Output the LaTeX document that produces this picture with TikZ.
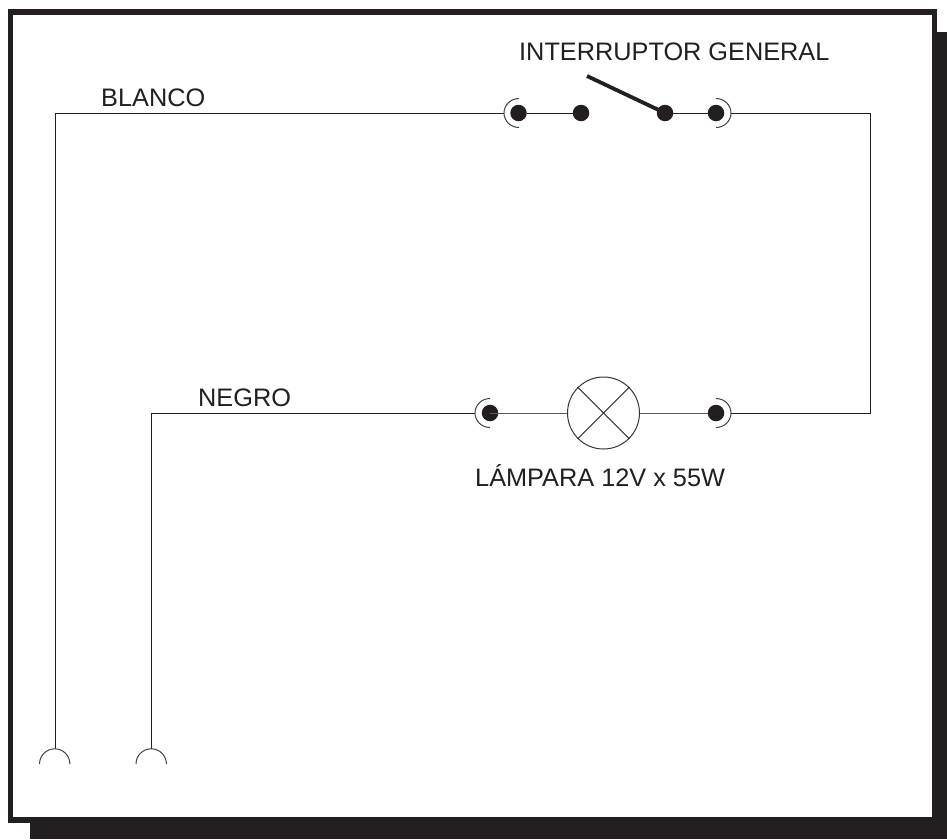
\documentclass[tikz,border=0pt]{standalone}
\usepackage{fontspec}
\setmainfont{Liberation Sans}
\definecolor{frameblack}{HTML}{231F20}
\definecolor{wiremag}{HTML}{A0307F}
\tikzset{
  x=1pt,y=-1pt,
  terminal/.style={circle,fill=frameblack,draw=none,inner sep=0pt,minimum size=16.5pt},
  wire/.style={draw=frameblack,line width=0.9pt},
  magwire/.style={draw=wiremag,line width=1pt},
  cup/.style={draw=frameblack!85,line width=1pt},
  lamp/.style={circle,draw=frameblack!90,line width=1pt,inner sep=0pt,minimum size=72pt},
  lever/.style={draw=frameblack,line width=3.8pt},
  label/.style={anchor=base west,inner sep=0pt,font=\fontsize{25.3}{30}\selectfont,text=frameblack}
}
\begin{document}
\begin{tikzpicture}
\useasboundingbox (0,0) rectangle (947,839);
% shadow and frame
\fill[frameblack] (30,32) rectangle (947,839);
\fill[frameblack] (7.5,9) rectangle (937,822.5);
\fill[white] (13,14.5) rectangle (932,816.5);
% nodes
\node[terminal] (t1) at (518.5,113) {};
\node[terminal] (t2) at (581,113) {};
\node[terminal] (t3) at (665,113) {};
\node[terminal] (t4) at (716,113) {};
\node[terminal] (t5) at (490,413) {};
\node[terminal] (t6) at (716,413) {};
\node[lamp] (L) at (603.5,413) {};
\coordinate (s0) at (587,76);
\coordinate (a1) at (504,113);
\coordinate (a4) at (731,113);
\coordinate (a5) at (475,413);
\coordinate (a6) at (731,413);
\coordinate (cTR) at (870,113);
\coordinate (cBR) at (870,413);
\coordinate (cTL) at (55,113);
\coordinate (cML) at (151,413);
\coordinate (p1) at (55,749);
\coordinate (p2) at (151,749);
% wires
\draw[wire] (p1) -- (cTL) -- (a1);
\draw[wire] (t1) -- (t2);
\draw[wire] (t3) -- (t4);
\draw[wire] (a4) -- (cTR) -- (cBR) -- (a6);
\draw[wire] (p2) -- (cML) -- (a5);
\draw[magwire] (t5.center) -- (L.west);
\draw[magwire] (L.east) -- (t6.west);
\draw[lever] (s0) -- (t3.center);
% lamp cross
\draw[wire] (L.45) -- (L.225);
\draw[wire] (L.135) -- (L.315);
% contact cups
\draw[cup] (519,98.5) arc[start angle=-90,end angle=-270,x radius=15,y radius=14.5];
\draw[cup] (716,98.5) arc[start angle=-90,end angle=90,x radius=15,y radius=14.5];
\draw[cup] (490,398.5) arc[start angle=-90,end angle=-270,x radius=15,y radius=14.5];
\draw[cup] (716,398.5) arc[start angle=-90,end angle=90,x radius=15,y radius=14.5];
\draw[cup] (39.5,764) arc[start angle=180,end angle=360,radius=15.2];
\draw[cup] (136,764) arc[start angle=180,end angle=360,radius=15.2];
% labels
\node[label] (lg) at (519,60) {INTERRUPTOR GENERAL};
\node[label] (lb) at (101,106) {BLANCO};
\node[label] (ln) at (198,406) {NEGRO};
\node[label] (ll) at (475,486) {LÁMPARA 12V x 55W};
\end{tikzpicture}
\end{document}
